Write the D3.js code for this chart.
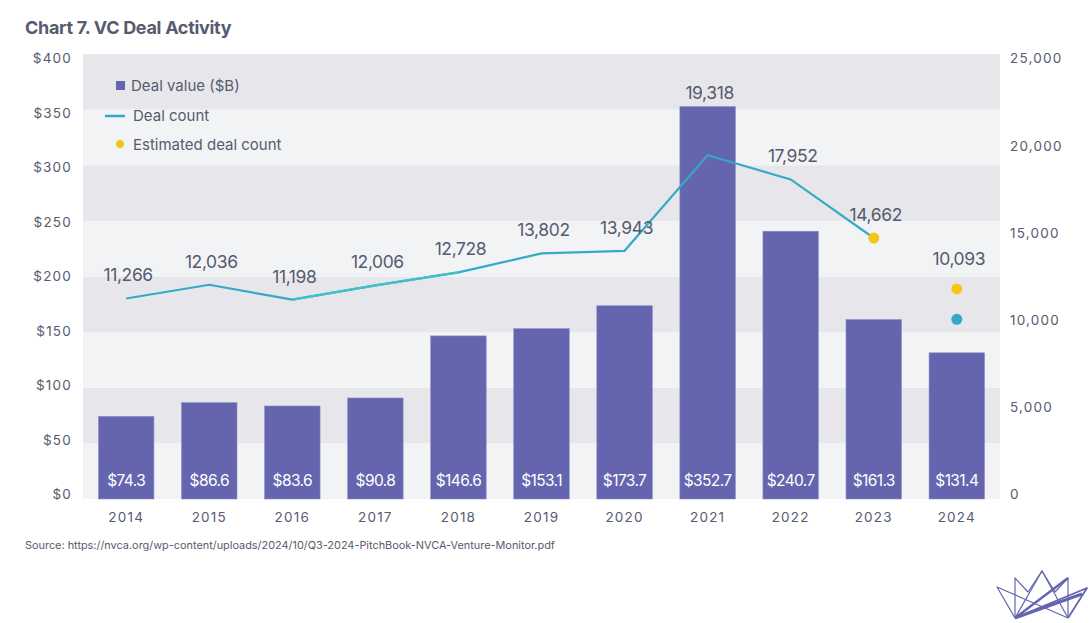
<!DOCTYPE html>
<html>
<head>
<meta charset="utf-8">
<script src="https://cdn.jsdelivr.net/npm/d3@7"></script>
<style>
  body { margin: 0; background: #fff; }
  text { font-family: Inter, "Noto Sans", sans-serif; }
</style>
</head>
<body>
<div id="main"></div>
<script>
var years = ['2014', '2015', '2016', '2017', '2018', '2019', '2020', '2021', '2022', '2023', '2024'];
var dealValue = [74.3, 86.6, 83.6, 90.8, 146.6, 153.1, 173.7, 352.7, 240.7, 161.3, 131.4];
var dealCount = [11266, 12036, 11198, 12006, 12728, 13802, 13943, 19318, 17952, 14662];
var estYears = ['2023', '2024'];
var estCount = [14662, 11800];
var actual2024 = 10093;
var leftTicks = [0, 50, 100, 150, 200, 250, 300, 350, 400];
var rightTicks = [0, 5000, 10000, 15000, 20000, 25000];

var width = 1091, height = 623;
var plotLeft = 83, plotRight = 1000, plotTop = 54, plotBottom = 499;
var textColor = '#565b6f';
var barColor = '#6465ae';
var lineColor = '#35a9c8';

var svg = d3.select('#main')
  .append('svg')
  .attr('width', width)
  .attr('height', height);

var x = d3.scaleBand()
  .domain(years)
  .range([plotLeft, plotRight])
  .paddingInner(0.332)
  .paddingOuter(0.186);

var y = d3.scaleLinear().domain([0, 400]).range([plotBottom, plotTop]);
var y2 = d3.scaleLinear().domain([0, 25000]).range([plotBottom, plotTop]);
// tick labels sit a little inside the bands in the original
var yLab = d3.scaleLinear().domain([0, 400]).range([494, 58]);
var y2Lab = d3.scaleLinear().domain([0, 25000]).range([494, 58]);

// title
svg.append('text')
  .attr('x', 25).attr('y', 34)
  .attr('font-size', 18).attr('font-weight', 700)
  .attr('letter-spacing', -0.3)
  .attr('fill', textColor)
  .text('Chart 7. VC Deal Activity');

// background bands
svg.selectAll('rect.band')
  .data(leftTicks.slice(0, -1))
  .enter()
  .append('rect')
  .attr('x', plotLeft)
  .attr('width', plotRight - plotLeft)
  .attr('y', function(d) { return y(d + 50); })
  .attr('height', function(d) { return y(d) - y(d + 50); })
  .attr('fill', function(d, i) { return i % 2 === 0 ? '#f2f3f5' : '#e7e7eb'; });

// left axis
var yAxis = svg.append('g')
  .attr('transform', 'translate(72,0)')
  .call(d3.axisLeft(yLab).tickValues(leftTicks).tickSize(0).tickPadding(0)
    .tickFormat(function(d) { return '$' + d; }));
yAxis.select('.domain').remove();
yAxis.selectAll('text')
  .attr('font-size', 13.5).attr('letter-spacing', 1.2)
  .attr('fill', textColor).attr('dy', '0.36em');

// right axis
var y2Axis = svg.append('g')
  .attr('transform', 'translate(1010,0)')
  .call(d3.axisRight(y2Lab).tickValues(rightTicks).tickSize(0).tickPadding(0)
    .tickFormat(d3.format(',')));
y2Axis.select('.domain').remove();
y2Axis.selectAll('text')
  .attr('font-size', 13.5).attr('letter-spacing', 1.2)
  .attr('fill', textColor).attr('dy', '0.36em');

// x axis
var xAxis = svg.append('g')
  .attr('transform', 'translate(0,' + plotBottom + ')')
  .call(d3.axisBottom(x).tickSize(0).tickPadding(0));
xAxis.select('.domain').remove();
xAxis.selectAll('text')
  .attr('font-size', 13.5).attr('letter-spacing', 1.2)
  .attr('fill', textColor).attr('dy', '1.7em');

// bars
svg.selectAll('rect.bar')
  .data(dealValue)
  .enter()
  .append('rect')
  .attr('class', 'bar')
  .attr('x', function(d, i) { return x(years[i]); })
  .attr('width', x.bandwidth())
  .attr('y', function(d) { return y(d); })
  .attr('height', function(d) { return plotBottom - y(d); })
  .attr('fill', barColor)
  .attr('stroke', '#8c8dc6')
  .attr('stroke-width', 0.6);

svg.selectAll('text.barlabel')
  .data(dealValue)
  .enter()
  .append('text')
  .attr('x', function(d, i) { return x(years[i]) + x.bandwidth() / 2; })
  .attr('y', plotBottom - 13)
  .attr('text-anchor', 'middle')
  .attr('font-size', 15.5).attr('letter-spacing', -0.6)
  .attr('fill', '#fff')
  .text(function(d) { return '$' + d.toFixed(1); });

// deal count line
var cx = function(i) { return x(years[i]) + x.bandwidth() / 2; };
var line = d3.line()
  .x(function(d, i) { return cx(i); })
  .y(function(d) { return y2(d); });

svg.append('path')
  .datum(dealCount)
  .attr('d', line)
  .attr('fill', 'none')
  .attr('stroke', lineColor)
  .attr('stroke-width', 2.2);

// teal segment 2016-2018
svg.append('path')
  .datum(dealCount.slice(2, 5))
  .attr('d', d3.line()
    .x(function(d, i) { return cx(i + 2); })
    .y(function(d) { return y2(d); }))
  .attr('fill', 'none')
  .attr('stroke', '#3fc2c6')
  .attr('stroke-width', 2.2);

// estimated points
svg.selectAll('circle.est')
  .data(estCount)
  .enter()
  .append('circle')
  .attr('cx', function(d, i) { return x(estYears[i]) + x.bandwidth() / 2; })
  .attr('cy', function(d) { return y2(d); })
  .attr('r', 5.5)
  .attr('fill', '#f5c518');

svg.append('circle')
  .attr('cx', x('2024') + x.bandwidth() / 2)
  .attr('cy', y2(actual2024))
  .attr('r', 5.5)
  .attr('fill', '#33a8c9');

// count labels
var labelData = dealCount.map(function(d, i) {
  return { year: years[i], value: d, top: Math.min(y2(d), y(dealValue[i]) + 9) };
});
labelData.push({ year: '2024', value: actual2024, top: y2(estCount[1]) - 7 });

svg.selectAll('text.count')
  .data(labelData)
  .enter()
  .append('text')
  .attr('x', function(d) { return x(d.year) + x.bandwidth() / 2 + 2; })
  .attr('y', function(d) { return d.top - 17; })
  .attr('text-anchor', 'middle')
  .attr('font-size', 17.5).attr('letter-spacing', -0.4)
  .attr('fill', textColor)
  .text(function(d) { return d3.format(',')(d.value); });

// legend
var legend = svg.append('g');
legend.append('rect')
  .attr('x', 116).attr('y', 81).attr('width', 9).attr('height', 9)
  .attr('fill', barColor);
legend.append('text')
  .attr('x', 131).attr('y', 91)
  .attr('font-size', 15).attr('fill', textColor)
  .text('Deal value ($B)');
legend.append('line')
  .attr('x1', 105).attr('x2', 125).attr('y1', 116).attr('y2', 116)
  .attr('stroke', lineColor).attr('stroke-width', 2.5);
legend.append('text')
  .attr('x', 133).attr('y', 121)
  .attr('font-size', 15).attr('fill', textColor)
  .text('Deal count');
legend.append('circle')
  .attr('cx', 120).attr('cy', 144).attr('r', 4)
  .attr('fill', '#f5c518');
legend.append('text')
  .attr('x', 133).attr('y', 150)
  .attr('font-size', 15).attr('fill', textColor)
  .text('Estimated deal count');

// source
svg.append('text')
  .attr('x', 25).attr('y', 549)
  .attr('font-size', 10.9).attr('fill', textColor)
  .text('Source:  https://nvca.org/wp-content/uploads/2024/10/Q3-2024-PitchBook-NVCA-Venture-Monitor.pdf');

// logo
var logo = svg.append('g')
  .attr('fill', 'none')
  .attr('stroke', barColor)
  .attr('stroke-width', 1.2)
  .attr('stroke-linejoin', 'round');
var A = [1015, 618], B = [1068, 618];
var crown = [[997, 587], [1015, 578], [1028, 592], [1042, 571], [1055, 592], [1068, 578], [1087, 588]];
logo.append('path').attr('d', d3.line()([A, crown[0], B]));
logo.append('path').attr('d', d3.line()([A, crown[1], crown[2], crown[3], crown[4], crown[5], B]));
logo.append('path').attr('d', d3.line()([A, crown[3], B]));
logo.append('path').attr('d', d3.line()([A, crown[5]])).attr('stroke-width', 2.5);
logo.append('path').attr('d', d3.line()([A, crown[6], B])).attr('stroke-width', 1.8);
logo.append('path').attr('d', d3.line()([A, [1082, 594]])).attr('stroke-width', 3);
</script>
</body>
</html>
